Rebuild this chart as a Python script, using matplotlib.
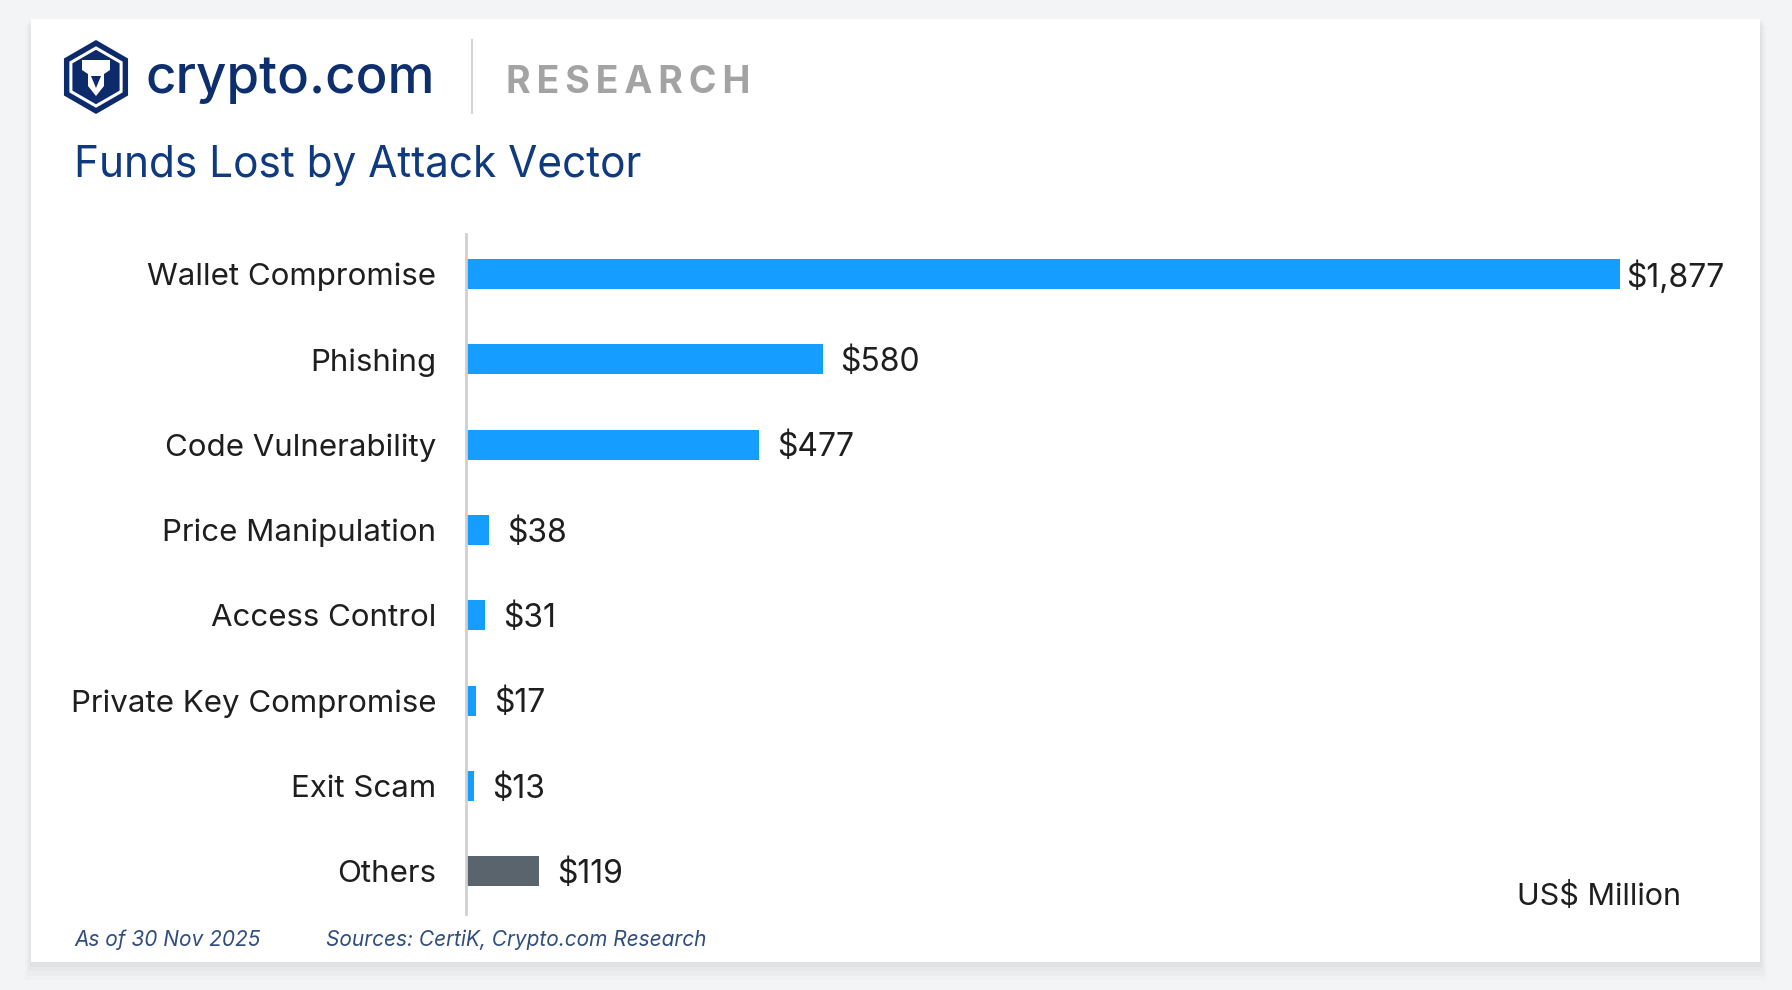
"""
Funds lost by attack vector (Crypto.com Research style card).
"""
import matplotlib
matplotlib.use("Agg")
import matplotlib.pyplot as plt
from matplotlib.patches import Rectangle, RegularPolygon, Polygon

categories = ["Wallet Compromise", "Phishing", "Code Vulnerability",
              "Price Manipulation", "Access Control", "Private Key Compromise",
              "Exit Scam", "Others"]
values = [1877, 580, 477, 38, 31, 17, 13, 119]
value_labels = ["$1,877", "$580", "$477", "$38", "$31", "$17", "$13", "$119"]

BLUE = "#159dff"
GREY_BAR = "#5a646d"
NAVY = "#0f3a80"
TEXT = "#1e1e1e"

plt.rcParams["font.family"] = ["Inter", "DejaVu Sans"]

W, H = 1792, 990
fig = plt.figure(figsize=(W / 100, H / 100), dpi=100)
fig.patch.set_facecolor("#f3f4f6")

# pixel-space overlay for the card, header and footer
bg = fig.add_axes([0, 0, 1, 1], zorder=0)
bg.set_xlim(0, W)
bg.set_ylim(H, 0)
bg.axis("off")
for k, a in enumerate([0.025, 0.02, 0.015, 0.01]):
    d = 3 + 3 * k
    bg.add_patch(Rectangle((31 - d / 2, 19 + d / 2), 1729 + d, 943 + d,
                           facecolor="black", alpha=a, lw=0))
bg.add_patch(Rectangle((31, 19), 1729, 943, facecolor="white", lw=0))

# logo
bg.add_patch(RegularPolygon((96, 77), 6, radius=37, orientation=0,
                            facecolor="#0d2a6b", lw=0))
bg.add_patch(RegularPolygon((96, 77), 6, radius=29, orientation=0,
                            facecolor="none", edgecolor="white", lw=2.2))
bg.add_patch(Polygon([(82, 60), (110, 60), (110, 70), (104, 74), (104, 86),
                      (96, 96), (88, 86), (88, 74), (82, 70)],
                     facecolor="white", lw=0))
bg.add_patch(Polygon([(91, 76), (101, 76), (96, 88)], facecolor="#0d2a6b", lw=0))
bg.text(145, 80, "crypto.com", fontsize=38, color="#0d2f6e",
        fontweight="medium", ha="left", va="center")
bg.plot([472, 472], [40, 113], color="#d4d4d4", lw=1.5)
bg.text(506, 83, "R E S E A R C H".replace(" ", "\u2009"), fontsize=27,
        color="#a3a3a3", fontweight="bold", ha="left", va="center")

bg.text(74, 165, "Funds Lost by Attack Vector", fontsize=30.5, color=NAVY,
        ha="left", va="center")

bg.text(74, 940, "As of 30 Nov 2025", fontsize=15, color="#2f4d7e",
        style="italic", ha="left", va="center")
bg.text(326, 940, "Sources: CertiK, Crypto.com Research", fontsize=15,
        color="#2f4d7e", style="italic", ha="left", va="center")
bg.text(1681, 896, "US$ Million", fontsize=22, color=TEXT,
        ha="right", va="center")

# chart
ax = fig.add_axes([466 / W, 1 - 914 / H, (1720 - 466) / W, (914 - 234) / H],
                  zorder=1)
ax.patch.set_alpha(0)
ypos = list(range(len(categories)))
colors = [GREY_BAR if c == "Others" else BLUE for c in categories]
ax.barh(ypos, values, height=0.35, color=colors)
ax.set_xlim(0, 2040)
ax.set_ylim(7.5, -0.47)
ax.set_yticks(ypos)
ax.set_yticklabels(categories, fontsize=22.5, color=TEXT)
ax.tick_params(axis="y", length=0, pad=21.5)
ax.set_xticks([])
for s in ["top", "right", "bottom"]:
    ax.spines[s].set_visible(False)
ax.spines["left"].set_color("#cfcfcf")
ax.spines["left"].set_linewidth(2)

vmax = max(values)
for y, v, lab in zip(ypos, values, value_labels):
    gap = 6 if v == vmax else 18
    ax.annotate(lab, (v, y), xytext=(gap, -3), textcoords="offset pixels",
                ha="left", va="center", fontsize=23, color=TEXT)

fig.savefig("out.png", dpi=100)
